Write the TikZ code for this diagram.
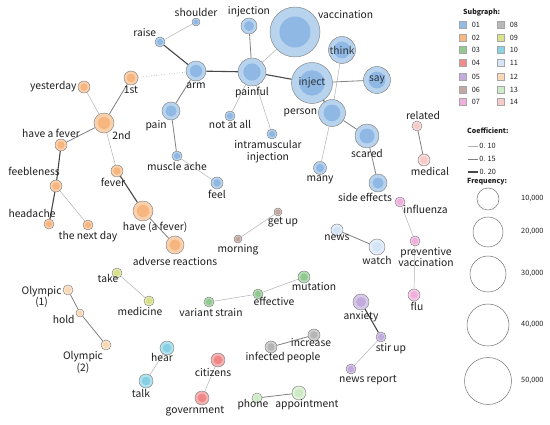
\documentclass[tikz,border=0pt]{standalone}
\usepackage{fontspec}
\newfontfamily\kwfont{Noto Sans CJK JP}
\usetikzlibrary{backgrounds}
\definecolor{sg01}{RGB}{110,165,220}
\definecolor{sg02}{RGB}{245,160,90}
\definecolor{sg03}{RGB}{110,185,110}
\definecolor{sg04}{RGB}{235,100,100}
\definecolor{sg05}{RGB}{175,145,210}
\definecolor{sg06}{RGB}{175,140,130}
\definecolor{sg07}{RGB}{235,150,210}
\definecolor{sg08}{RGB}{160,160,160}
\definecolor{sg09}{RGB}{205,215,100}
\definecolor{sg10}{RGB}{100,195,220}
\definecolor{sg11}{RGB}{200,220,245}
\definecolor{sg12}{RGB}{250,205,160}
\definecolor{sg13}{RGB}{190,230,180}
\definecolor{sg14}{RGB}{245,185,185}
\definecolor{txtgray}{RGB}{30,30,30}

\begin{document}
\begin{tikzpicture}[
    x=1pt, y=-1pt,
    font=\kwfont\fontsize{10.3}{11.5}\selectfont,
    kw/.style 2 args={circle, draw=black!50, line width=.45pt, fill=#1!58,
                      fill opacity=.85, minimum size={2*#2pt}, inner sep=0pt,
                      text=txtgray,
                      path picture={\fill[#1!82] (path picture bounding box.center)
                                    circle[radius={0.62*#2pt}];}},
    lbl/.style={text=txtgray, inner sep=1pt},
    thinlink/.style={draw=black!30, line width=.5pt},
    midlink/.style={draw=black!50, line width=.8pt},
    boldlink/.style={draw=black!72, line width=1.1pt},
    dotlink/.style={draw=black!40, line width=.6pt, dotted},
    swatch/.style={draw=black!35, fill=#1!75, minimum size=7pt, inner sep=0pt},
    freq/.style={circle, draw=black!55, line width=.5pt, inner sep=0pt,
                 minimum size={2*#1pt}},
    legtxt/.style={font=\kwfont\fontsize{7.3}{8}\selectfont, text=txtgray, inner sep=1pt},
    legtitle/.style={font=\kwfont\bfseries\fontsize{7}{8}\selectfont, text=txtgray,
                     inner sep=1pt}
  ]
  \useasboundingbox (0,0) rectangle (550,425);

  % subgraph 01
  \node[kw={sg01}{4}, label={[lbl]above:shoulder}] (shoulder) at (196,22) {};
  \node[kw={sg01}{5}, label={[lbl]120:raise}] (raise) at (160,42) {};
  \node[kw={sg01}{10}, label={[lbl]below:arm}] (arm) at (196,71) {};
  \node[kw={sg01}{9}, label={[lbl]-110:pain}] (pain) at (171,111) {};
  \node[kw={sg01}{5}, label={[lbl]below:muscle ache}] (ache) at (177,156) {};
  \node[kw={sg01}{6}, label={[lbl]below:feel}] (feel) at (217,183) {};
  \node[kw={sg01}{8}, label={[lbl]above:injection}] (injection) at (249,26) {};
  \node[kw={sg01}{25}, label={[lbl]30:vaccination}] (vaccination) at (295,32) {};
  \node[kw={sg01}{14}, label={[lbl]below:painful}] (painful) at (252,72) {};
  \node[kw={sg01}{5}, label={[lbl, label distance=-2pt]below:not at all}] (notatall) at (230,116) {};
  \node[kw={sg01}{5}, label={[lbl, align=center, xshift=-4pt]below:intramuscular\\injection}] (intramusc) at (272,134) {};
  \node[kw={sg01}{20.5}] (inject) at (312,83) {inject};
  \node[kw={sg01}{13.5}] (think) at (342,50) {think};
  \node[kw={sg01}{13.5}] (say) at (377,80) {say};
  \node[kw={sg01}{13.5}, label={[lbl]left:person}] (person) at (332,113) {};
  \node[kw={sg01}{12}, label={[lbl]below:scared}] (scared) at (367,136) {};
  \node[kw={sg01}{6.5}, label={[lbl]below:many}] (many) at (320,168) {};
  \node[kw={sg01}{9}, label={[lbl, xshift=-13pt]below:side effects}] (sideeff) at (378,183) {};

  % subgraph 02
  \node[kw={sg02}{7}, label={[lbl]below:1st}] (first) at (131,78) {};
  \node[kw={sg02}{6}, label={[lbl]left:yesterday}] (yesterday) at (84,87) {};
  \node[kw={sg02}{10}, label={[lbl]-45:2nd}] (second) at (104,123) {};
  \node[kw={sg02}{6}, label={[lbl, xshift=-10pt]above:have a fever}] (haveafever) at (61,145) {};
  \node[kw={sg02}{6}, label={[lbl, xshift=-22pt, label distance=3pt]above:feebleness}] (feeble) at (56,186) {};
  \node[kw={sg02}{5}, label={[lbl, xshift=-17pt]above:headache}] (headache) at (49,224) {};
  \node[kw={sg02}{5}, label={[lbl]below:the next day}] (nextday) at (88,225) {};
  \node[kw={sg02}{6}, label={[lbl, xshift=-4pt]below:fever}] (fever) at (117,171) {};
  \node[kw={sg02}{10}, label={[lbl, xshift=12pt]below:have (a fever)}] (have) at (143,211) {};
  \node[kw={sg02}{9}, label={[lbl, label distance=2pt]below:adverse reactions}] (adverse) at (175,245) {};

  % subgraphs 03 - 14
  \node[kw={sg03}{5}, label={[lbl, xshift=2pt]below:variant strain}] (variant) at (209,302) {};
  \node[kw={sg03}{5}, label={[lbl, xshift=16pt, label distance=-3pt]below:effective}] (effective) at (258,294) {};
  \node[kw={sg03}{6}, label={[lbl, xshift=10pt, label distance=-2pt]below:mutation}] (mutation) at (304,277) {};
  \node[kw={sg04}{7}, label={[lbl, xshift=-5pt]below:citizens}] (citizens) at (218,360) {};
  \node[kw={sg04}{7}, label={[lbl, xshift=-7pt]below:government}] (government) at (202,398) {};
  \node[kw={sg05}{8}, label={[lbl]below:anxiety}] (anxiety) at (361,302) {};
  \node[kw={sg05}{5}, label={[lbl, xshift=10pt]below:stir up}] (stirup) at (381,337) {};
  \node[kw={sg05}{5}, label={[lbl, xshift=17pt]below:news report}] (newsreport) at (351,369) {};
  \node[kw={sg06}{4}, label={[lbl, xshift=5pt]below:get up}] (getup) at (278,212) {};
  \node[kw={sg06}{4}, label={[lbl]below:morning}] (morning) at (238,239) {};
  \node[kw={sg07}{5}, label={[lbl, label distance=-2pt]-45:influenza}] (influenza) at (400,202) {};
  \node[kw={sg07}{5}, label={[lbl, align=center, xshift=11pt]below:preventive\\vaccination}] (preventive) at (415,241) {};
  \node[kw={sg07}{6}, label={[lbl, xshift=3pt]below:flu}] (flu) at (414,295) {};
  \node[kw={sg08}{6}, label={[lbl, xshift=-3pt, label distance=-4pt]below:increase}] (increase) at (314,335) {};
  \node[kw={sg08}{6}, label={[lbl, xshift=12pt, label distance=-2pt]below:infected people}] (infected) at (271,347) {};
  \node[kw={sg09}{5}, label={[lbl, xshift=-9pt, label distance=-5pt]below:take}] (take) at (117,273) {};
  \node[kw={sg09}{5}, label={[lbl, xshift=-9pt]below:medicine}] (medicine) at (149,301) {};
  \node[kw={sg10}{7}, label={[lbl, xshift=-5pt, label distance=-3pt]below:hear}] (hear) at (167,348) {};
  \node[kw={sg10}{7}, label={[lbl, xshift=-5pt]below:talk}] (talk) at (146,381) {};
  \node[kw={sg11}{6}, label={[lbl, label distance=-3pt]below:news}] (news) at (337,230) {};
  \node[kw={sg11}{8}, label={[lbl]below:watch}] (watch) at (377,247) {};
  \node[kw={sg12}{5}, label={[lbl, align=center, yshift=-7pt]left:Olympic\\(1)}] (olympicA) at (68,290) {};
  \node[kw={sg12}{4}, label={[lbl, yshift=-6pt]left:hold}] (hold) at (80,313) {};
  \node[kw={sg12}{5}, label={[lbl, align=center, xshift=-23pt]below:Olympic\\(2)}] (olympicB) at (106,345) {};
  \node[kw={sg13}{5}, label={[lbl, xshift=-4pt, label distance=-5pt]below:phone}] (phone) at (257,398) {};
  \node[kw={sg13}{7}, label={[lbl, xshift=8pt, label distance=-2pt]below:appointment}] (appointment) at (299,393) {};
  \node[kw={sg14}{5}, label={[lbl, xshift=6pt]above:related}] (related) at (417,126) {};
  \node[kw={sg14}{6}, label={[lbl, xshift=6pt]below:medical}] (medical) at (424,160) {};

  % co-occurrence links
  \begin{scope}[on background layer]
    \draw[thinlink] (raise) -- (shoulder);
    \draw[boldlink] (raise) -- (arm);
    \draw[boldlink] (arm) -- (painful);
    \draw[midlink]  (arm) -- (pain);
    \draw[midlink]  (pain) -- (ache);
    \draw[thinlink] (ache) -- (feel);
    \draw[midlink]  (painful) -- (injection);
    \draw[thinlink] (painful) -- (vaccination);
    \draw[boldlink] (painful) -- (inject);
    \draw[thinlink] (painful) -- (notatall);
    \draw[thinlink] (painful) -- (intramusc);
    \draw[midlink]  (inject) -- (say);
    \draw[boldlink] (inject) -- (person);
    \draw[midlink]  (person) -- (scared);
    \draw[thinlink] (think) -- (person);
    \draw[thinlink] (person) -- (many);
    \draw[midlink]  (scared) -- (sideeff);
    \draw[dotlink]  (first) -- (arm);
    \draw[midlink]  (first) -- (second);
    \draw[thinlink] (yesterday) -- (second);
    \draw[midlink]  (second) -- (haveafever);
    \draw[boldlink] (haveafever) -- (feeble);
    \draw[boldlink] (feeble) -- (headache);
    \draw[thinlink] (feeble) -- (nextday);
    \draw[thinlink] (second) -- (fever);
    \draw[boldlink] (fever) -- (have);
    \draw[midlink]  (have) -- (adverse);
    \draw[thinlink] (variant) -- (effective);
    \draw[thinlink] (effective) -- (mutation);
    \draw[thinlink] (citizens) -- (government);
    \draw[boldlink] (anxiety) -- (stirup);
    \draw[thinlink] (stirup) -- (newsreport);
    \draw[thinlink] (getup) -- (morning);
    \draw[thinlink] (influenza) -- (preventive);
    \draw[thinlink] (preventive) -- (flu);
    \draw[midlink]  (increase) -- (infected);
    \draw[thinlink] (take) -- (medicine);
    \draw[thinlink] (hear) -- (talk);
    \draw[midlink]  (news) -- (watch);
    \draw[midlink]  (olympicA) -- (hold);
    \draw[midlink]  (hold) -- (olympicB);
    \draw[midlink]  (phone) -- (appointment);
    \draw[midlink]  (related) -- (medical);
  \end{scope}

  % legend
  \node[legtitle, anchor=west] (subgraph) at (462,13) {Subgraph:};
  \foreach \n/\y in {01/25,02/38,03/50,04/63,05/77,06/90,07/102}
    \node[swatch=sg\n, label={[legtxt, label distance=4pt]right:\n}] (sw\n) at (463,\y) {};
  \foreach \n/\y in {08/25,09/38,10/50,11/63,12/77,13/90,14/102}
    \node[swatch=sg\n, label={[legtxt, label distance=4pt]right:\n}] (sw\n) at (501,\y) {};

  \node[legtitle, anchor=west] (coef) at (466,131) {Coefficient:};
  \foreach \s/\v/\y in {thinlink/10/146, midlink/15/159, boldlink/20/172} {
    \coordinate (k\v) at (468,\y);
    \draw[\s] (k\v) -- ++(10,0) node[legtxt, right] (kt\v) {0. \v};
  }

  \node[legtitle, anchor=west] (frequency) at (466,182) {Frequency:};
  \foreach \v/\r/\y in {10/11/199, 20/15/232, 30/18/274, 40/21/325, 50/23.5/381} {
    \node[freq=\r] (f\v) at (488,\y) {};
    \node[legtxt, anchor=west] (ft\v) at (520,\y) {\v,000};
  }
\end{tikzpicture}
\end{document}
